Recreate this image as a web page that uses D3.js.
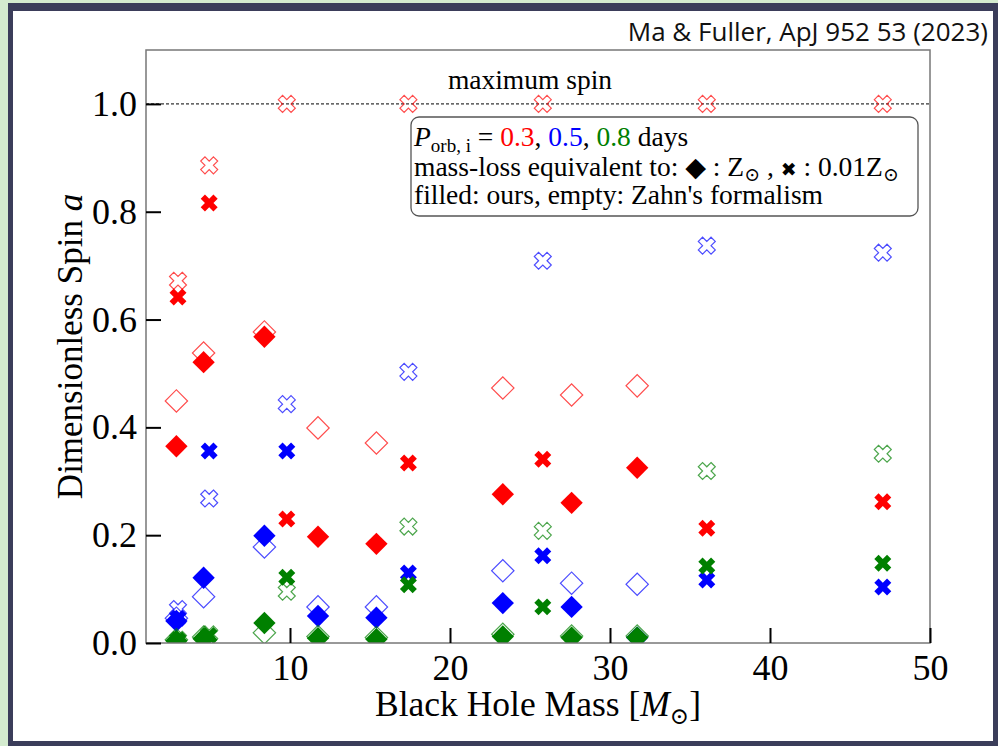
<!doctype html>
<html lang="en">
<head>
  <meta charset="utf-8">
  <script src="https://d3js.org/d3.v7.min.js"></script>
  <style>
    html, body { margin: 0; padding: 0; background: #d4ebcf; }
    svg { display: block; }
    .serif { font-family: "Liberation Serif", "DejaVu Serif", serif; }
  </style>
</head>
<body>
<div id="chart"></div>
<script>
  // masses of the models (Msun): diamonds = Z_sun mass loss, crosses = 0.01 Z_sun
  var massZsun = [2.9, 4.6, 8.4, 11.75, 15.4, 23.3, 27.6, 31.7];
  var massZlow = [3.0, 4.95, 9.8, 17.4, 25.8, 36.05, 47.05];

  var periods = ["0.3", "0.5", "0.8"];
  var colors = ["#ff0000", "#0000ff", "#008000"];

  // spin, Z_sun, our formalism (filled diamonds)
  var oursZsun03 = [0.365, 0.521, 0.568, 0.197, 0.184, 0.276, 0.260, 0.325];
  var oursZsun05 = [0.041, 0.121, 0.199, 0.050, 0.047, 0.074, 0.067, 0.010];
  var oursZsun08 = [0.004, 0.008, 0.037, 0.009, 0.007, 0.012, 0.010, 0.010];
  // spin, Z_sun, Zahn (empty diamonds)
  var zahnZsun03 = [0.449, 0.538, 0.577, 0.399, 0.371, 0.473, 0.460, 0.477];
  var zahnZsun05 = [0.046, 0.086, 0.178, 0.067, 0.067, 0.134, 0.111, 0.109];
  var zahnZsun08 = [0.006, 0.011, 0.019, 0.012, 0.010, 0.016, 0.013, 0.013];
  // spin, 0.01 Z_sun, our formalism (filled crosses)
  var oursZlow03 = [0.642, 0.816, 0.230, 0.334, 0.341, 0.213, 0.262];
  var oursZlow05 = [0.046, 0.356, 0.356, 0.130, 0.162, 0.117, 0.104];
  var oursZlow08 = [0.005, 0.014, 0.122, 0.108, 0.067, 0.143, 0.148];
  // spin, 0.01 Z_sun, Zahn (empty crosses)
  var zahnZlow03 = [0.672, 0.886, 1.0, 1.0, 1.0, 1.0, 1.0];
  var zahnZlow05 = [0.063, 0.268, 0.443, 0.503, 0.709, 0.737, 0.724];
  var zahnZlow08 = [0.006, 0.016, 0.095, 0.216, 0.208, 0.319, 0.351];

  var xTicks = [10, 20, 30, 40, 50];
  var yTicks = [0, 0.2, 0.4, 0.6, 0.8, 1.0];

  var width = 998, height = 746;
  var margin = {left: 146, right: 68, top: 50, bottom: 103};

  var svg = d3.select("#chart").append("svg")
      .attr("width", width).attr("height", height);

  // page frame
  svg.append("rect").attr("width", width).attr("height", height).attr("fill", "#d4ebcf");
  svg.append("rect").attr("x", 8).attr("y", 3).attr("width", 995).attr("height", 750).attr("fill", "#3b3d5a");
  svg.append("rect").attr("x", 13).attr("y", 11).attr("width", 980).attr("height", 730).attr("fill", "#ffffff");

  svg.append("text")
      .attr("x", 988).attr("y", 41)
      .attr("text-anchor", "end")
      .style("font-family", "'Open Sans', sans-serif")
      .style("font-size", "26px")
      .attr("fill", "#111")
      .text("Ma & Fuller, ApJ 952 53 (2023)");

  var x = d3.scaleLinear().domain([1, 50]).range([margin.left, width - margin.right]);
  var y = d3.scaleLinear().domain([0, 1.1]).range([height - margin.bottom, margin.top]);

  svg.append("defs").append("clipPath").attr("id", "clip")
    .append("rect")
      .attr("x", x(1)).attr("y", y(1.1))
      .attr("width", x(50) - x(1)).attr("height", y(0) - y(1.1));

  var plot = svg.append("g");

  // maximum spin line
  plot.append("line")
      .attr("x1", x(1)).attr("x2", x(50))
      .attr("y1", y(1)).attr("y2", y(1))
      .attr("stroke", "#000").attr("stroke-width", 1)
      .attr("stroke-dasharray", "3,2");
  plot.append("text").attr("class", "serif")
      .attr("x", 530).attr("y", y(1) - 15)
      .attr("text-anchor", "middle")
      .style("font-size", "27.5px")
      .text("maximum spin");

  // markers
  var diamond = d3.symbol().type(d3.symbolSquare).size(250);
  function crossPath(s) {
    var pts = [[-1,-3],[1,-3],[1,-1],[3,-1],[3,1],[1,1],[1,3],[-1,3],[-1,1],[-3,1],[-3,-1],[-1,-1]];
    var c = Math.SQRT1_2;
    return "M" + pts.map(function(p) {
      var px = (p[0] - p[1]) * c, py = (p[0] + p[1]) * c;
      return [px * s / 6, py * s / 6];
    }).join("L") + "Z";
  }
  var cross = crossPath(18);

  var groups = [
    {z: oursZsun03, e: zahnZsun03, l: oursZlow03, le: zahnZlow03},
    {z: oursZsun05, e: zahnZsun05, l: oursZlow05, le: zahnZlow05},
    {z: oursZsun08, e: zahnZsun08, l: oursZlow08, le: zahnZlow08}
  ];

  var marks = plot.append("g").attr("clip-path", "url(#clip)");
  groups.forEach(function(g, k) {
    var col = colors[k];
    var layer = marks.append("g");
    layer.selectAll(".de").data(g.e).enter().append("path")
        .attr("d", diamond)
        .attr("transform", function(d, i) { return "translate(" + x(massZsun[i]) + "," + y(d) + ") rotate(45)"; })
        .attr("fill", "none").attr("stroke", col).attr("stroke-opacity", 0.7).attr("stroke-width", 1.2);
    layer.selectAll(".df").data(g.z).enter().append("path")
        .attr("d", diamond)
        .attr("transform", function(d, i) { return "translate(" + x(massZsun[i]) + "," + y(d) + ") rotate(45)"; })
        .attr("fill", col);
    layer.selectAll(".xe").data(g.le).enter().append("path")
        .attr("d", cross)
        .attr("transform", function(d, i) { return "translate(" + x(massZlow[i]) + "," + y(d) + ")"; })
        .attr("fill", "none").attr("stroke", col).attr("stroke-opacity", 0.7).attr("stroke-width", 1.2);
    layer.selectAll(".xf").data(g.l).enter().append("path")
        .attr("d", cross)
        .attr("transform", function(d, i) { return "translate(" + x(massZlow[i]) + "," + y(d) + ")"; })
        .attr("fill", col);
  });

  // axes box
  plot.append("rect")
      .attr("x", x(1)).attr("y", y(1.1))
      .attr("width", x(50) - x(1)).attr("height", y(0) - y(1.1))
      .attr("fill", "none").attr("stroke", "#777").attr("stroke-width", 1.5);

  var xAxis = plot.append("g")
      .attr("transform", "translate(0," + y(0) + ")")
      .call(d3.axisBottom(x).tickValues(xTicks).tickFormat(d3.format("d")).tickSizeInner(-15).tickSizeOuter(0).tickPadding(11));
  var yAxis = plot.append("g")
      .attr("transform", "translate(" + x(1) + ",0)")
      .call(d3.axisLeft(y).tickValues(yTicks).tickFormat(d3.format(".1f")).tickSizeInner(-15).tickSizeOuter(0).tickPadding(9));
  [xAxis, yAxis].forEach(function(a) {
    a.select(".domain").remove();
    a.selectAll(".tick line").attr("stroke", "#000").attr("stroke-width", 2);
    a.selectAll(".tick text").attr("class", "serif").style("font-size", "36px").attr("fill", "#000");
  });
  xAxis.selectAll(".tick text").attr("dy", "0.71em");

  // axis labels
  var xl = svg.append("text").attr("class", "serif")
      .attr("x", 538).attr("y", 716)
      .attr("text-anchor", "middle").style("font-size", "35.5px");
  xl.append("tspan").text("Black Hole Mass [");
  xl.append("tspan").style("font-style", "italic").text("M");
  xl.append("tspan").attr("dy", 8).style("font-size", "23px").text("\u2299");
  xl.append("tspan").attr("dy", -8).text("]");

  var yl = svg.append("text").attr("class", "serif")
      .attr("transform", "translate(82," + ((y(0) + y(1.1)) / 2) + ") rotate(-90)")
      .attr("text-anchor", "middle").style("font-size", "35px");
  yl.append("tspan").text("Dimensionless Spin ");
  yl.append("tspan").style("font-style", "italic").text("a");

  // legend / annotation box
  var lg = svg.append("g");
  lg.append("rect")
      .attr("x", 411).attr("y", 117).attr("width", 507).attr("height", 99)
      .attr("rx", 8).attr("fill", "#fff").attr("stroke", "#555").attr("stroke-width", 1.3);

  var fs = "27.5px";
  var l1 = lg.append("text").attr("class", "serif").attr("x", 414).attr("y", 146).style("font-size", fs);
  l1.append("tspan").style("font-style", "italic").text("P");
  l1.append("tspan").attr("dy", 6).style("font-size", "19px").text("orb, i");
  l1.append("tspan").attr("dy", -6).text(" = ");
  periods.forEach(function(p, i) {
    l1.append("tspan").attr("fill", colors[i]).text(p);
    l1.append("tspan").text(i < periods.length - 1 ? ", " : " days");
  });

  var l2 = lg.append("text").attr("class", "serif").attr("x", 414).attr("y", 176).style("font-size", fs);
  l2.append("tspan").text("mass-loss equivalent to: ");
  l2.append("tspan").style("font-family", "'DejaVu Sans'").style("font-size", "27px").text("\u25C6");
  l2.append("tspan").text(" : Z");
  l2.append("tspan").attr("dy", 5).style("font-size", "19px").text("\u2299");
  l2.append("tspan").attr("dy", -5).text(" , ");
  l2.append("tspan").style("font-family", "'DejaVu Sans'").style("font-size", "19px").text("\u2716");
  l2.append("tspan").text(" : 0.01Z");
  l2.append("tspan").attr("dy", 5).style("font-size", "19px").text("\u2299");

  lg.append("text").attr("class", "serif").attr("x", 414).attr("y", 204).style("font-size", fs)
      .text("filled: ours, empty: Zahn's formalism");
</script>
</body>
</html>
